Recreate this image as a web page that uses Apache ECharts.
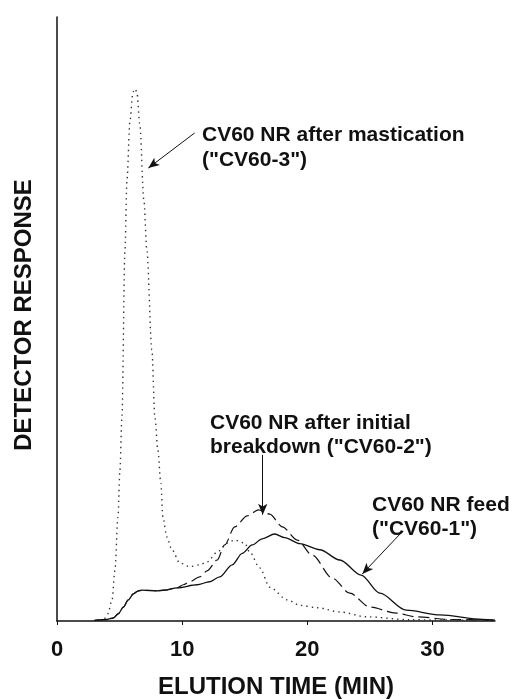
<!DOCTYPE html>
<html>
<head>
<meta charset="utf-8">
<script src="https://cdn.jsdelivr.net/npm/echarts@6/dist/echarts.min.js"></script>
<style>
  html, body { margin: 0; padding: 0; background: #fff; }
  #chart { width: 525px; height: 699px; }
</style>
</head>
<body>
<div id="chart"></div>
<script>
// elution time ticks (min)
const timeTicks = [0, 10, 20, 30];

// CV60-1: NR feed (solid)
const feedTime = [3.0, 4.0, 4.5, 4.9, 5.3, 5.7, 6.1, 6.5, 6.8, 7.4, 8.0, 8.6, 9.6, 11.2, 12.2, 13.0, 14.0, 14.8, 15.6, 16.4, 17.4, 18.2, 19.4, 21.0, 22.6, 24.3, 25.8, 27.9, 30.6, 34.0, 35.0];
const feedResp = [0.1, 0.25, 0.5, 1.2, 2.3, 3.5, 4.5, 5.0, 5.1, 5.05, 5.0, 5.1, 5.5, 6.0, 6.5, 7.3, 9.3, 11.2, 12.6, 13.6, 14.4, 13.8, 12.8, 11.8, 10.1, 7.6, 4.6, 1.8, 1.0, 0.25, 0.15];

// CV60-2: after initial breakdown (dashed)
const breakTime = [3.0, 4.0, 4.5, 4.9, 5.3, 5.7, 6.1, 6.5, 6.8, 7.4, 8.0, 8.6, 9.6, 10.1, 10.6, 11.4, 12.0, 12.8, 13.4, 14.2, 15.2, 16.1, 17.0, 18.0, 19.2, 20.4, 22.0, 23.4, 25.0, 27.1, 28.7, 31.4, 35.0];
const breakResp = [0.1, 0.25, 0.5, 1.2, 2.3, 3.5, 4.5, 5.0, 5.1, 5.05, 5.0, 5.1, 5.5, 6.0, 6.5, 7.3, 8.3, 10.1, 12.6, 15.6, 17.4, 18.4, 17.7, 15.6, 13.4, 10.9, 7.1, 4.6, 2.3, 1.3, 0.7, 0.25, 0.15];

// CV60-3: after mastication (dotted)
const mastTime = [3.4, 3.75, 4.07, 4.4, 4.63, 4.87, 5.03, 5.19, 5.43, 5.59, 5.83, 6.07, 6.23, 6.38, 6.62, 6.94, 7.18, 7.58, 7.82, 8.06, 8.3, 8.46, 8.78, 9.18, 9.82, 10.6, 11.4, 12.0, 12.8, 13.6, 14.2, 15.0, 15.4, 16.2, 17.0, 18.4, 19.4, 20.8, 22.6, 24.7, 28.2, 35.0];
const mastResp = [0.1, 0.3, 1.2, 3.5, 8.4, 17.2, 25.0, 33.8, 61.4, 73.0, 82.8, 87.6, 88.1, 87.6, 82.1, 69.7, 61.4, 44.9, 33.8, 28.3, 22.8, 17.2, 13.9, 11.8, 9.6, 9.0, 9.3, 9.8, 11.4, 12.9, 13.4, 12.9, 11.4, 8.8, 5.6, 3.5, 2.6, 2.2, 1.5, 0.7, 0.2, 0.1];

// annotation arrows: [from, to] in (min, response)
const arrows = [
  [[11.0, 80.8], [7.3, 75.0]],
  [[16.44, 27.5], [16.44, 17.6]],
  [[27.5, 14.6], [24.4, 7.8]]
];

function zip(xs, ys) {
  return xs.map((x, i) => [x, ys[i]]);
}

const myChart = echarts.init(document.getElementById('chart'));
const font = '"Liberation Sans", Arial, Helvetica, sans-serif';

function note(x, y, text) {
  return {
    type: 'text',
    left: x,
    top: y,
    style: {
      text: text,
      fill: '#111',
      font: 'bold 21px ' + font,
      verticalAlign: 'middle'
    },
    silent: true
  };
}

const option = {
  animation: false,
  backgroundColor: '#fff',
  grid: {
    left: 57,
    right: 30,
    top: 17,
    bottom: 78
  },
  xAxis: {
    type: 'value',
    min: 0,
    max: 35,
    interval: 10,
    axisLine: { lineStyle: { color: '#111', width: 1.5 } },
    axisTick: { show: true, length: 4, customValues: timeTicks, lineStyle: { color: '#111' } },
    axisLabel: {
      customValues: timeTicks,
      margin: 18,
      color: '#111',
      fontSize: 22,
      fontWeight: 'bold',
      fontFamily: font
    },
    splitLine: { show: false }
  },
  yAxis: {
    type: 'value',
    min: 0,
    max: 100,
    axisLine: { show: true, lineStyle: { color: '#111', width: 1.5 } },
    axisTick: { show: false },
    axisLabel: { show: false },
    splitLine: { show: false }
  },
  graphic: [
    note(202, 125, 'CV60 NR after mastication'),
    note(202, 150, '("CV60-3")'),
    note(210, 413, 'CV60 NR after initial'),
    note(210, 437, 'breakdown ("CV60-2")'),
    note(372, 495, 'CV60 NR feed'),
    note(372, 519, '("CV60-1")'),
    {
      type: 'text',
      x: 276,
      y: 687,
      style: {
        text: 'ELUTION TIME (MIN)',
        fill: '#111',
        font: 'bold 24px ' + font,
        align: 'center',
        verticalAlign: 'middle'
      }
    },
    {
      type: 'text',
      x: 24,
      y: 315,
      rotation: Math.PI / 2,
      style: {
        text: 'DETECTOR RESPONSE',
        fill: '#111',
        font: 'bold 24px ' + font,
        align: 'center',
        verticalAlign: 'middle'
      }
    }
  ],
  series: [
    {
      name: 'CV60-1',
      type: 'line',
      data: zip(feedTime, feedResp),
      smooth: 0.3,
      smoothMonotone: 'x',
      showSymbol: false,
      lineStyle: { color: '#111', width: 1.3 }
    },
    {
      name: 'CV60-2',
      type: 'line',
      data: zip(breakTime, breakResp),
      smooth: 0.3,
      smoothMonotone: 'x',
      showSymbol: false,
      lineStyle: { color: '#111', width: 1.2, type: [11, 5] }
    },
    {
      name: 'CV60-3',
      type: 'line',
      data: zip(mastTime, mastResp),
      smooth: 0.3,
      smoothMonotone: 'x',
      showSymbol: false,
      lineStyle: { color: '#333', width: 1.4, type: [1.4, 4] },
      markLine: {
        silent: true,
        symbol: ['none', 'arrow'],
        symbolSize: [7, 11],
        label: { show: false },
        lineStyle: { color: '#111', width: 1, type: 'solid' },
        data: arrows.map(a => [{ coord: a[0] }, { coord: a[1] }])
      }
    }
  ]
};
myChart.setOption(option);
window.onresize = myChart.resize;
</script>
</body>
</html>
